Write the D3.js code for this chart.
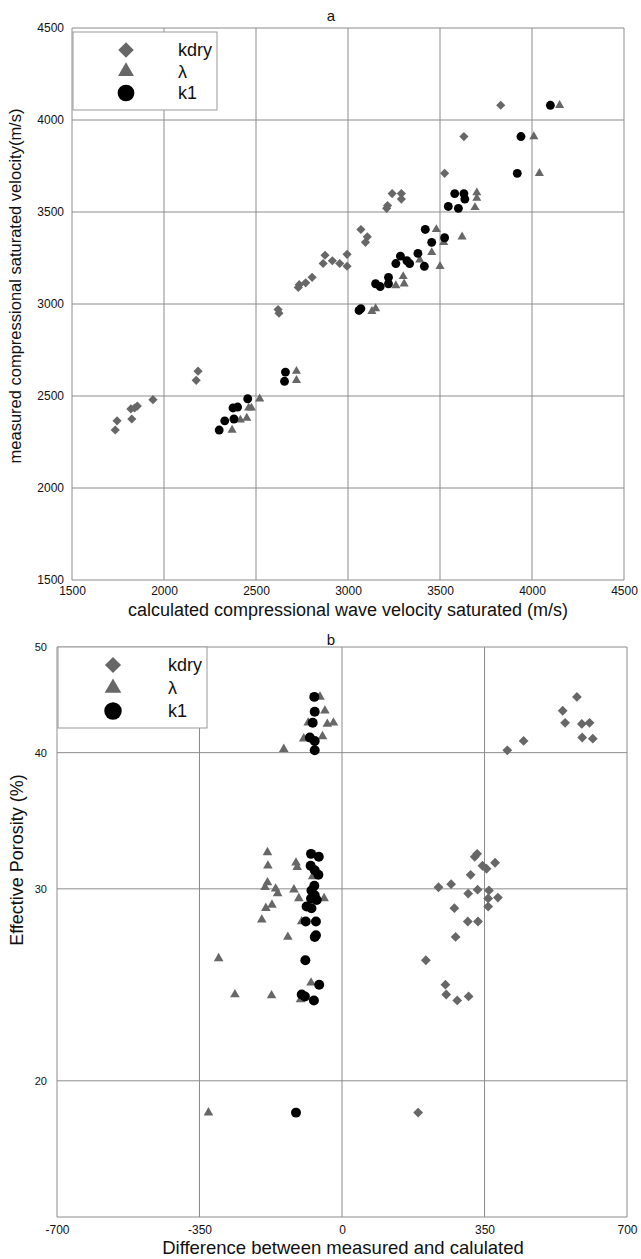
<!DOCTYPE html>
<html>
<head>
<meta charset="utf-8">
<script src="https://cdn.jsdelivr.net/npm/d3@7"></script>
<style>
  body { margin: 0; background: #fff; }
  text { font-family: "Liberation Sans", Arial, sans-serif; fill: #111; }
</style>
</head>
<body>
<div id="app"></div>
<script>
// Chart a: calculated vs measured Vp (m/s), [calculated, measured]
const aKdry = [[1735,2315],[1745,2365],[1825,2375],[1820,2430],[1840,2435],[1855,2445],[1940,2480],
  [2175,2585],[2185,2635],[2620,2970],[2625,2950],[2730,3090],[2735,3105],[2770,3115],[2805,3145],
  [2865,3220],[2875,3265],[2915,3235],[2955,3220],[2995,3270],[2995,3205],[3070,3405],[3095,3335],
  [3105,3365],[3210,3520],[3215,3535],[3240,3600],[3290,3600],[3290,3570],[3525,3710],[3630,3910],[3830,4080]];
const aLambda = [[2370,2315],[2415,2370],[2450,2380],[2460,2435],[2475,2435],[2520,2485],[2720,2585],
  [2720,2635],[3130,2960],[3150,2975],[3260,3100],[3300,3150],[3305,3110],[3390,3240],[3455,3280],
  [3500,3205],[3520,3335],[3480,3405],[3620,3365],[3690,3525],[3700,3575],[3700,3605],[4010,3910],
  [4040,3710],[4150,4080]];
const aK1 = [[2300,2315],[2330,2365],[2380,2375],[2375,2435],[2400,2440],[2455,2485],[2655,2580],
  [2660,2630],[3060,2965],[3070,2975],[3150,3110],[3175,3095],[3220,3145],[3220,3110],[3260,3220],
  [3285,3260],[3320,3235],[3335,3220],[3380,3275],[3415,3205],[3420,3405],[3455,3335],[3525,3360],
  [3545,3530],[3580,3600],[3600,3520],[3630,3600],[3635,3570],[3920,3710],[3940,3910],[4100,4080]];
const aTicks = [1500, 2000, 2500, 3000, 3500, 4000, 4500];

// Chart b: difference (measured - calculated) vs effective porosity (%)
const bKdry = [[406,40.2],[446,41.0],[548,42.6],[542,43.7],[577,45.0],[589,42.5],[608,42.6],[590,41.3],[616,41.2],
  [332,32.3],[326,32.1],[376,31.7],[345,31.5],[355,31.3],[316,30.9],[268,30.3],[237,30.1],[333,29.95],
  [361,29.9],[310,29.7],[359,29.4],[383,29.45],[359,28.9],[276,28.8],[309,28.0],[334,28.0],[279,27.1],
  [206,25.8],[254,24.5],[256,24.0],[283,23.7],[311,23.9],[187,18.7]];
const bLambda = [[-143,40.3],[-94,41.2],[-83,42.6],[-54,45.0],[-42,43.7],[-36,42.5],[-21,42.6],[-48,41.4],
  [-183,32.4],[-182,31.5],[-113,31.7],[-110,31.4],[-183,30.4],[-189,30.1],[-163,30.0],[-158,29.7],
  [-118,29.95],[-106,29.4],[-44,29.4],[-72,30.8],[-172,29.0],[-187,28.8],[-197,28.1],[-99,28.0],
  [-133,27.1],[-303,25.9],[-76,24.6],[-263,24.0],[-173,23.95],[-102,23.75],[-328,18.7]];
const bK1 = [[-68,45.0],[-67,43.6],[-72,42.6],[-79,41.3],[-67,41.0],[-67,40.2],[-76,32.3],[-57,32.1],
  [-77,31.5],[-67,31.2],[-58,30.9],[-68,30.2],[-75,29.9],[-67,29.6],[-76,29.4],[-62,29.3],[-87,28.9],
  [-75,28.8],[-89,28.0],[-64,28.0],[-67,27.1],[-64,27.2],[-90,25.8],[-56,24.5],[-99,24.0],[-91,23.9],
  [-69,23.7],[-113,18.7]];
const bXTicks = [-700, -350, 0, 350, 700];
const bYTicks = [20, 30, 40, 50];

const seriesNames = ["kdry", "\u03bb", "k1"];
const seriesColors = ["#676767", "#676767", "#000000"];

const svg = d3.select("#app").append("svg")
  .attr("width", 641).attr("height", 1259);

const grid = "#8c8c8c";
// plain hyphen for negatives, as in the original
const plain = d => String(d);

// Marker shapes: rotated square, triangle, circle
function marker(g, kind, size) {
  if (kind === 0) {
    g.append("path")
      .attr("d", d3.symbol(d3.symbolSquare, size)())
      .attr("transform", "rotate(45)")
      .attr("fill", seriesColors[0]);
  } else if (kind === 1) {
    g.append("path")
      .attr("d", d3.symbol(d3.symbolTriangle, size)())
      .attr("fill", seriesColors[1]);
  } else {
    g.append("path")
      .attr("d", d3.symbol(d3.symbolCircle, size)())
      .attr("fill", seriesColors[2]);
  }
}

function drawPoints(g, data, x, y, kind, size) {
  g.append("g")
    .selectAll("g")
    .data(data)
    .join("g")
    .attr("transform", d => `translate(${x(d[0])},${y(d[1])})`)
    .each(function () { marker(d3.select(this), kind, size); });
}

function drawLegend(box, sizes) {
  const lg = svg.append("g");
  lg.append("rect")
    .attr("x", box.x).attr("y", box.y).attr("width", box.w).attr("height", box.h)
    .attr("fill", "#fff").attr("stroke", "#999").attr("stroke-width", 1);
  seriesNames.forEach((name, i) => {
    const row = lg.append("g")
      .attr("transform", `translate(${box.mx},${box.y + box.top + i * box.step})`);
    marker(row, i, sizes[i]);
    lg.append("text")
      .attr("x", box.tx).attr("y", box.y + box.top + i * box.step)
      .attr("dy", "0.35em")
      .attr("font-size", 18)
      .text(name);
  });
}

// ---------- Chart a ----------
const ax = d3.scaleLinear().domain([1500, 4500]).range([72, 624]);
const ay = d3.scaleLinear().domain([1500, 4500]).range([580, 28]);

const ga = svg.append("g");
ga.append("g")
  .selectAll("line")
  .data(aTicks)
  .join("line")
  .attr("x1", d => ax(d)).attr("x2", d => ax(d))
  .attr("y1", ay(1500)).attr("y2", ay(4500))
  .attr("stroke", grid);
ga.append("g")
  .selectAll("line")
  .data(aTicks)
  .join("line")
  .attr("x1", ax(1500)).attr("x2", ax(4500))
  .attr("y1", d => ay(d)).attr("y2", d => ay(d))
  .attr("stroke", grid);

ga.append("g")
  .attr("transform", `translate(0,${ay(1500)})`)
  .call(d3.axisBottom(ax).tickValues(aTicks).tickSize(0).tickPadding(6).tickFormat(plain))
  .call(g => g.select(".domain").remove())
  .call(g => g.selectAll("text").attr("font-size", 12).attr("fill", "#111"));
ga.append("g")
  .attr("transform", `translate(${ax(1500)},0)`)
  .call(d3.axisLeft(ay).tickValues(aTicks).tickSize(0).tickPadding(8).tickFormat(plain))
  .call(g => g.select(".domain").remove())
  .call(g => g.selectAll("text").attr("font-size", 12).attr("fill", "#111"));

drawPoints(ga, aKdry, ax, ay, 0, 42);
drawPoints(ga, aLambda, ax, ay, 1, 36);
drawPoints(ga, aK1, ax, ay, 2, 62);

ga.append("text").attr("x", 331).attr("y", 21).attr("text-anchor", "middle")
  .attr("font-size", 15).text("a");
ga.append("text").attr("x", 348).attr("y", 616).attr("text-anchor", "middle")
  .attr("font-size", 18).text("calculated compressional wave velocity saturated (m/s)");
ga.append("text")
  .attr("transform", "translate(21,286) rotate(-90)")
  .attr("text-anchor", "middle")
  .attr("font-size", 16.5).text("measured compressional saturated velocity(m/s)");

drawLegend({ x: 73, y: 32, w: 144, h: 78, mx: 126, tx: 178, top: 18, step: 21.5 }, [120, 110, 220]);

// ---------- Chart b ----------
const bx = d3.scaleLinear().domain([-700, 700]).range([57, 627]);
const by = d3.scaleLog().domain([15, 50]).range([1217, 647]);

const gb = svg.append("g");
gb.append("g")
  .selectAll("line")
  .data(bXTicks)
  .join("line")
  .attr("x1", d => bx(d)).attr("x2", d => bx(d))
  .attr("y1", by(15)).attr("y2", by(50))
  .attr("stroke", grid);
gb.append("g")
  .selectAll("line")
  .data([15].concat(bYTicks))
  .join("line")
  .attr("x1", bx(-700)).attr("x2", bx(700))
  .attr("y1", d => by(d)).attr("y2", d => by(d))
  .attr("stroke", grid);

gb.append("g")
  .attr("transform", `translate(0,${by(15)})`)
  .call(d3.axisBottom(bx).tickValues(bXTicks).tickSize(0).tickPadding(8).tickFormat(plain))
  .call(g => g.select(".domain").remove())
  .call(g => g.selectAll("text").attr("font-size", 12).attr("fill", "#111"));
gb.append("g")
  .attr("transform", `translate(${bx(-700)},0)`)
  .call(d3.axisLeft(by).tickValues(bYTicks).tickSize(0).tickPadding(10).tickFormat(plain))
  .call(g => g.select(".domain").remove())
  .call(g => g.selectAll("text").attr("font-size", 11).attr("fill", "#111"));

drawPoints(gb, bKdry, bx, by, 0, 48);
drawPoints(gb, bLambda, bx, by, 1, 40);
drawPoints(gb, bK1, bx, by, 2, 78);

gb.append("text").attr("x", 331).attr("y", 645).attr("text-anchor", "middle")
  .attr("font-size", 15).text("b");
gb.append("text").attr("x", 343).attr("y", 1254).attr("text-anchor", "middle")
  .attr("font-size", 18.5).text("Difference between measured and calulated");
gb.append("text")
  .attr("transform", "translate(23,860) rotate(-90)")
  .attr("text-anchor", "middle")
  .attr("font-size", 18).text("Effective Porosity (%)");

drawLegend({ x: 58, y: 647, w: 149, h: 81, mx: 113, tx: 168, top: 18, step: 23 }, [130, 120, 240]);
</script>
</body>
</html>
